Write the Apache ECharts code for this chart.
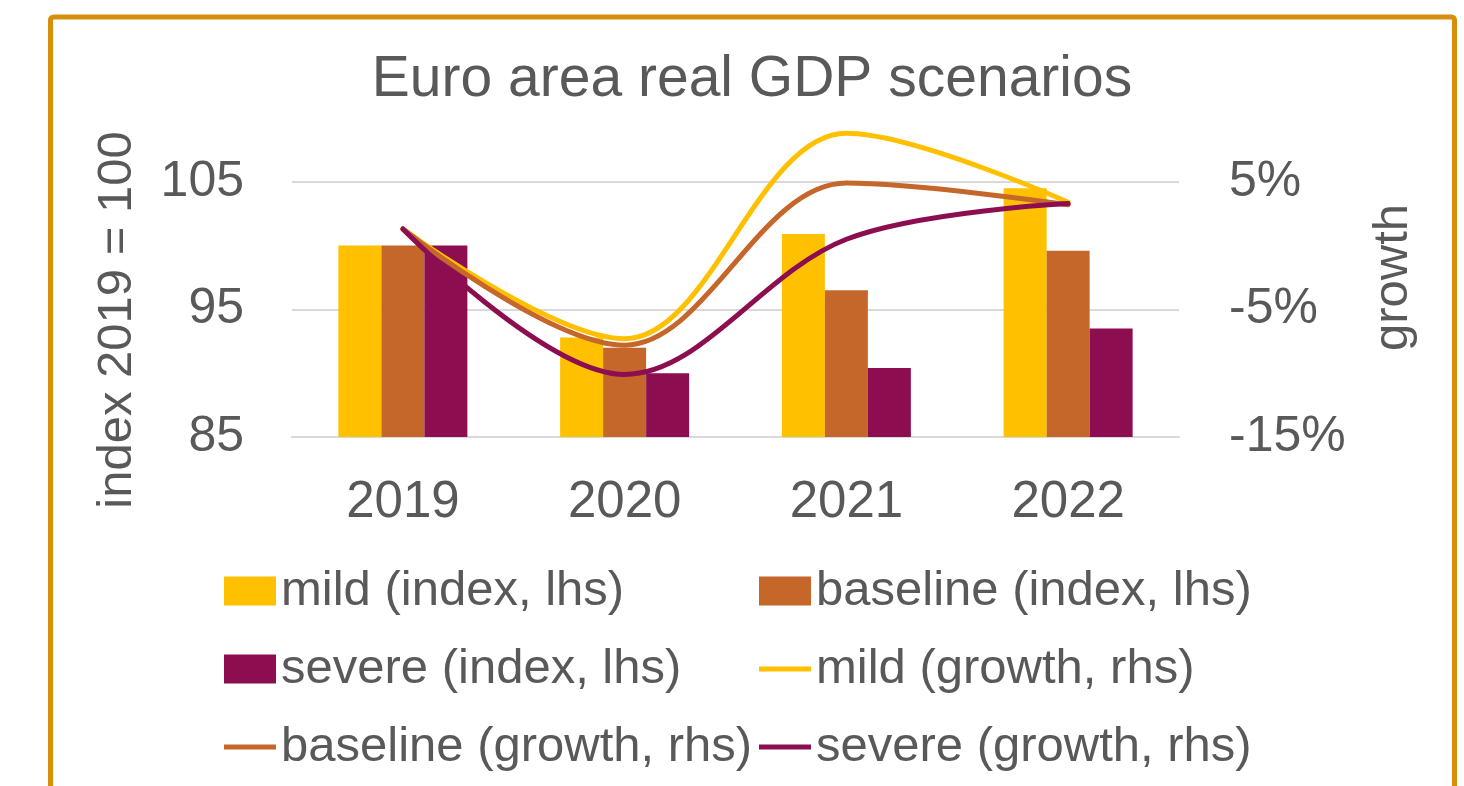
<!DOCTYPE html>
<html>
<head>
<meta charset="utf-8">
<script src="https://cdn.jsdelivr.net/npm/echarts@6/dist/echarts.min.js"></script>
<style>
  html, body { margin: 0; padding: 0; background: #fff; }
  #main { width: 1464px; height: 786px; }
</style>
</head>
<body>
<div id="main"></div>
<script>
var years = ['2019', '2020', '2021', '2022'];

// index, 2019 = 100 (lhs)
var mildIndex = [100, 92.8, 100.9, 104.5];
var baselineIndex = [100, 92.0, 96.5, 99.6];
var severeIndex = [100, 90.0, 90.4, 93.5];

// growth, % (rhs)
var mildGrowth = [1.3, -7.3, 8.8, 3.4];
var baselineGrowth = [1.3, -7.8, 4.9, 3.2];
var severeGrowth = [1.3, -10.1, 0.5, 3.3];

var textColor = '#595959';
var font = 'Liberation Sans';
var gridColor = '#d9d9d9';
var lineIcon = 'path://M0,0L52,0L52,5L0,5Z';

var myChart = echarts.init(document.getElementById('main'));

var legendText = { color: textColor, fontSize: 49, lineHeight: 56, fontFamily: font };

function growthLine(name, data, color) {
    return {
        name: name, type: 'line', yAxisIndex: 1, data: data,
        smooth: 0.35, smoothConstraint: false, symbol: 'none', z: 5,
        lineStyle: { color: color, width: 5, cap: 'round' }, itemStyle: { color: color }
    };
}

var option = {
    backgroundColor: '#fff',
    animation: false,
    textStyle: { fontFamily: font },
    graphic: [
        {
            type: 'rect',
            shape: { x: 50.5, y: 17, width: 1404, height: 820, r: 3 },
            style: { fill: 'none', stroke: '#d58f0b', lineWidth: 5 },
            z: 10
        },
        {
            type: 'text',
            x: 752, y: 80,
            style: {
                text: 'Euro area real GDP scenarios',
                font: '57px "Liberation Sans"',
                fill: textColor,
                align: 'center',
                verticalAlign: 'middle'
            }
        },
        {
            type: 'text',
            x: 117, y: 320,
            rotation: Math.PI / 2,
            style: {
                text: 'index 2019 = 100',
                font: '49px "Liberation Sans"',
                fill: textColor,
                align: 'center',
                verticalAlign: 'middle'
            }
        }
    ],
    grid: { left: 292, right: 285, top: 118, bottom: 349 },
    legend: [
        {
            orient: 'vertical',
            left: 224, top: 563, padding: 0,
            itemWidth: 52, itemHeight: 29,
            itemGap: 22, itemTextGap: 6,
            textStyle: legendText,
            data: [
                { name: 'mild (index, lhs)', icon: 'rect' },
                { name: 'severe (index, lhs)', icon: 'rect' },
                { name: 'baseline (growth, rhs)', icon: lineIcon }
            ]
        },
        {
            orient: 'vertical',
            left: 759, top: 563, padding: 0,
            itemWidth: 52, itemHeight: 29,
            itemGap: 22, itemTextGap: 6,
            textStyle: legendText,
            data: [
                { name: 'baseline (index, lhs)', icon: 'rect' },
                { name: 'mild (growth, rhs)', icon: lineIcon },
                { name: 'severe (growth, rhs)', icon: lineIcon }
            ]
        }
    ],
    xAxis: {
        type: 'category',
        data: years,
        axisLine: { onZero: false, lineStyle: { color: gridColor, width: 2 } },
        axisTick: { show: false },
        axisLabel: { color: textColor, fontSize: 51, margin: 40, fontFamily: font }
    },
    yAxis: [
        {
            type: 'value',
            min: 85, max: 110, interval: 10,
            axisLine: { show: false },
            axisTick: { show: false },
            axisLabel: { color: textColor, fontSize: 50, margin: 48, showMaxLabel: false, fontFamily: font },
            splitLine: { lineStyle: { color: [gridColor, gridColor, gridColor, 'rgba(0,0,0,0)'], width: 2 } }
        },
        {
            type: 'value',
            min: -15, max: 10, interval: 10,
            name: 'growth',
            nameLocation: 'middle',
            nameRotate: 90,
            nameGap: 190,
            nameTextStyle: { color: textColor, fontSize: 49, fontFamily: font },
            axisLine: { show: false },
            axisTick: { show: false },
            axisLabel: { color: textColor, fontSize: 50, margin: 50, showMaxLabel: false, formatter: '{value}%', fontFamily: font },
            splitLine: { show: false }
        }
    ],
    series: [
        { name: 'mild (index, lhs)', type: 'bar', yAxisIndex: 0, data: mildIndex, barWidth: 43, barGap: '0%', itemStyle: { color: '#ffc000' } },
        { name: 'baseline (index, lhs)', type: 'bar', yAxisIndex: 0, data: baselineIndex, barWidth: 43, barGap: '0%', itemStyle: { color: '#c5672a' } },
        { name: 'severe (index, lhs)', type: 'bar', yAxisIndex: 0, data: severeIndex, barWidth: 43, barGap: '0%', itemStyle: { color: '#8c0e51' } },
        growthLine('mild (growth, rhs)', mildGrowth, '#ffc000'),
        growthLine('baseline (growth, rhs)', baselineGrowth, '#c5672a'),
        growthLine('severe (growth, rhs)', severeGrowth, '#8c0e51')
    ]
};

myChart.setOption(option);
</script>
</body>
</html>
